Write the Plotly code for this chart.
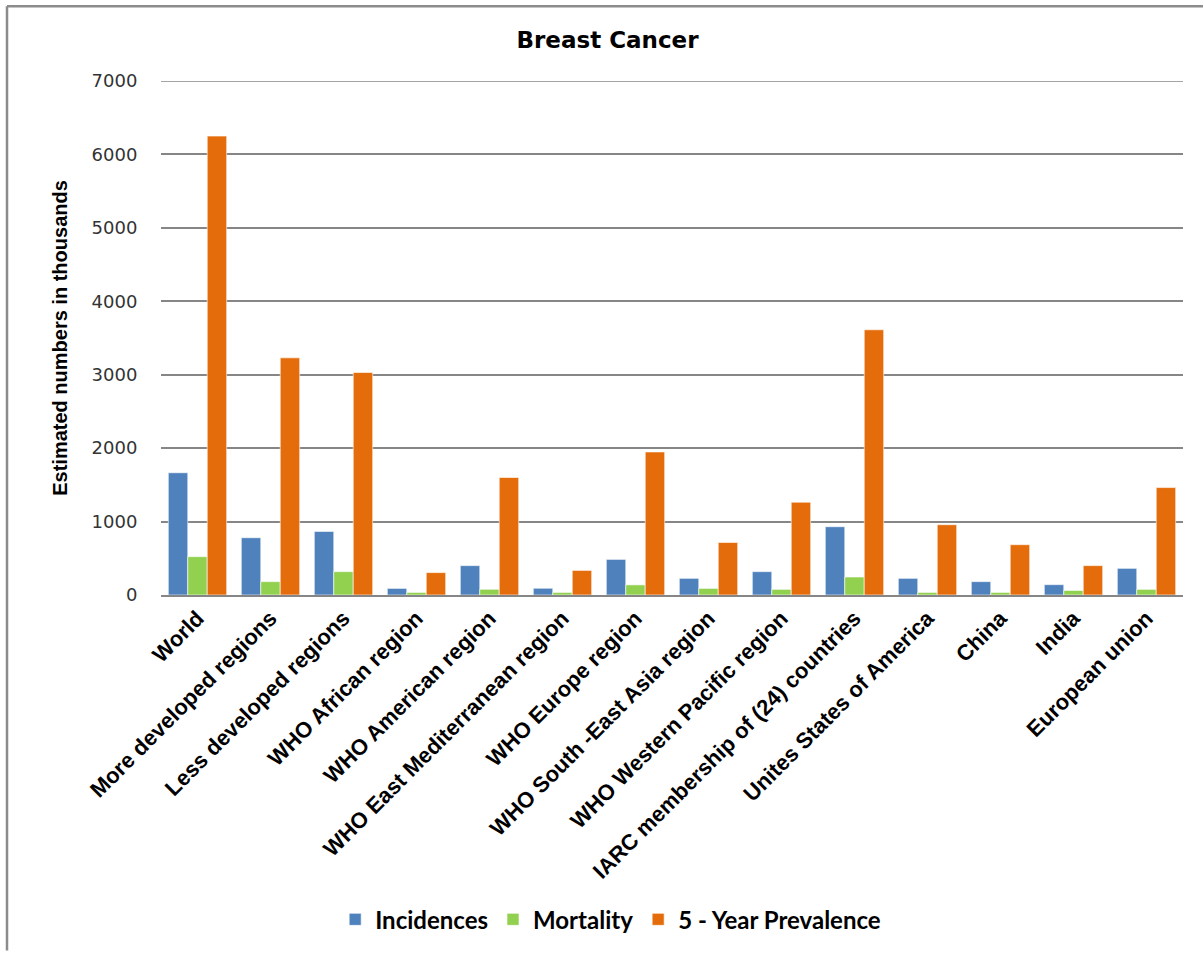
import plotly.graph_objects as go

categories = [
    "World", "More developed regions", "Less developed regions",
    "WHO African region", "WHO American region", "WHO East Mediterranean region",
    "WHO Europe region", "WHO South -East Asia region", "WHO Western Pacific region",
    "IARC membership of (24) countries", "Unites States of America", "China",
    "India", "European union",
]
incidences = [1665, 780, 866, 90, 400, 92, 485, 227, 318, 930, 227, 182, 141, 363]
mortality = [522, 182, 318, 35, 78, 35, 138, 90, 77, 245, 35, 35, 62, 77]
prevalence = [6250, 3230, 3030, 305, 1600, 335, 1948, 716, 1264, 3612, 957, 685, 400, 1463]
series_names = ["Incidences", "Mortality", "5 - Year Prevalence"]
colors = ["#4F81BD", "#92D050", "#E46C0A"]
y_ticks = [0, 1000, 2000, 3000, 4000, 5000, 6000, 7000]

fig = go.Figure()
for name, vals, col in zip(series_names, [incidences, mortality, prevalence], colors):
    fig.add_trace(go.Bar(
        x=categories, y=vals, name=name,
        marker=dict(color=col, line=dict(color="rgba(255,255,255,0.6)", width=1)),
    ))

W, H = 1203, 954
L, R, T, B = 161, 20, 81, 357
pw, ph = W - L - R, H - T - B

def px(x):
    return (x - L) / pw

def py(y):
    return (H - B - y) / ph

fig.update_layout(
    width=W, height=H,
    margin=dict(l=L, r=R, t=T, b=B),
    paper_bgcolor="white", plot_bgcolor="white",
    barmode="group", bargap=0.2, bargroupgap=0,
    title=dict(text="<b>Breast Cancer</b>", x=0.505, xanchor="center",
               y=1 - 40 / H, yanchor="middle",
               font=dict(family="DejaVu Sans, Verdana", size=23, color="#000")),
    showlegend=True,
    legend=dict(orientation="h", x=0.44, xanchor="center",
                y=py(923), yanchor="middle",
                font=dict(family="Lato, Carlito, sans-serif", size=24, color="#000", weight="bold"),
                itemwidth=30, tracegroupgap=0),
    xaxis=dict(
        tickangle=-45, tickfont=dict(family="Liberation Sans, Arial", size=22, color="#000", weight="bold"),
        showgrid=False, showline=True, linecolor="#868686", linewidth=1.5,
        ticks="", fixedrange=True,
    ),
    yaxis=dict(
        range=[0, 7000], tickvals=y_ticks, ticktext=[str(v) for v in y_ticks],
        tickfont=dict(family="DejaVu Sans, Verdana", size=18, color="#333"),
        showgrid=True, gridcolor="#868686", gridwidth=1.5,
        zeroline=False, showline=False, ticks="outside", ticklen=19, tickcolor="rgba(0,0,0,0)",
        title=dict(text="<b>Estimated numbers in thousands</b>", standoff=18,
                   font=dict(family="Liberation Sans Narrow, Liberation Sans, Arial", size=20, color="#000")),
    ),
    shapes=[
        dict(type="line", xref="paper", yref="y", x0=0, x1=1, y0=7000, y1=7000,
             line=dict(color="#868686", width=1.5), layer="below"),
        dict(type="line", xref="paper", yref="paper", x0=px(7), x1=px(1203), y0=py(6), y1=py(6),
             line=dict(color="#8c8c8c", width=2.5)),
        dict(type="line", xref="paper", yref="paper", x0=px(7), x1=px(7), y0=py(6), y1=py(954),
             line=dict(color="#8c8c8c", width=2.5)),
    ],
)

fig.write_html("out.html")
